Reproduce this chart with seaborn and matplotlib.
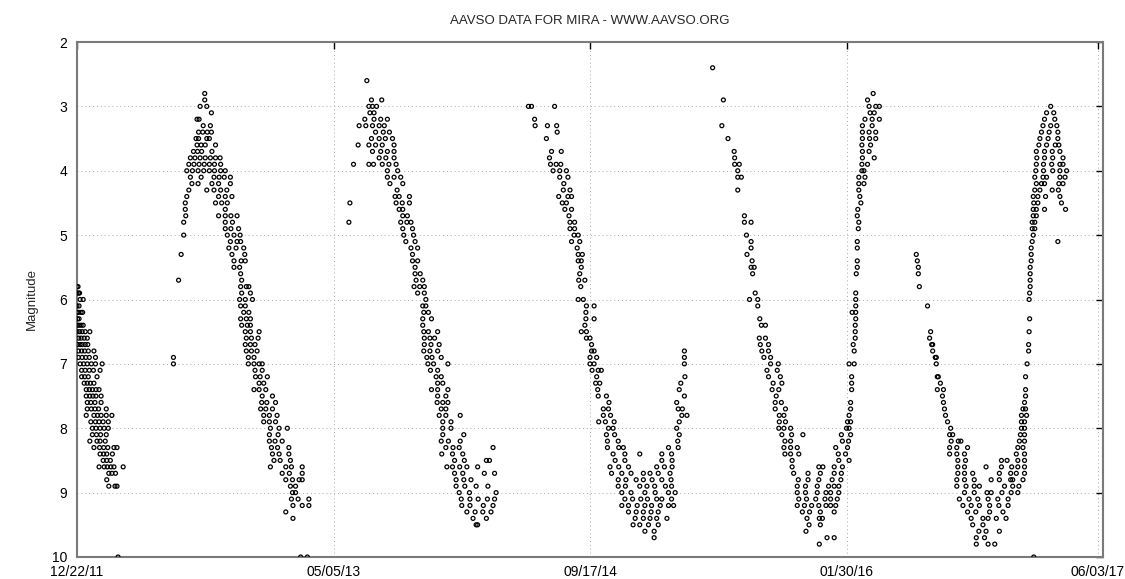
import pandas as pd
import seaborn as sns
import matplotlib.pyplot as plt

# AAVSO visual magnitudes of Mira.
# Each row: (magnitude, [days since 12/22/11 on which that magnitude was reported])
start_date = pd.Timestamp('2011-12-22')
tick_dates = ['2011-12-22', '2013-05-05', '2014-09-17', '2016-01-30', '2017-06-03']
tick_labels = ['12/22/11', '05/05/13', '09/17/14', '01/30/16', '06/03/17']
mag_ticks = [2, 3, 4, 5, 6, 7, 8, 9, 10]

cycle_2011 = [
    (5.8, [0, 2]), (5.9, [0, 3, 5]), (6.0, [6, 12]), (6.1, [0, 4]),
    (6.2, [0, 3, 8, 11]), (6.3, [1, 4]), (6.4, [0, 4, 8, 12]),
    (6.5, [0, 5, 10, 16, 25]), (6.6, [3, 8, 14, 20]), (6.7, [1, 6, 10, 16, 21]),
    (6.8, [3, 9, 15, 22, 33]), (6.9, [3, 10, 17, 24, 36]),
    (7.0, [6, 13, 20, 28, 36, 49]), (7.1, [9, 16, 24, 32, 45]),
    (7.2, [9, 15, 22, 39]), (7.3, [14, 20, 26, 33]), (7.4, [18, 24, 30, 37, 43]),
    (7.5, [18, 25, 31, 37, 47]), (7.6, [20, 27, 35, 47]),
    (7.7, [20, 28, 35, 42, 57]), (7.8, [18, 33, 40, 47, 57, 68]),
    (7.9, [27, 36, 43, 51, 61]), (8.0, [30, 37, 45, 53, 61]),
    (8.1, [30, 38, 46, 57]), (8.2, [25, 39, 45, 55]),
    (8.3, [33, 44, 52, 60, 72, 78]), (8.4, [45, 52, 58, 69]), (8.5, [51, 58, 65]),
    (8.6, [43, 53, 59, 66, 72, 90]), (8.7, [62, 68, 75]), (8.8, [58]),
    (8.9, [62, 74, 78]), (10.0, [80]),
]

cycle_2012 = [
    (2.8, [249]), (2.9, [249]), (3.0, [240, 253]), (3.1, [262]), (3.2, [234, 238]),
    (3.3, [246, 260]), (3.4, [237, 245, 254, 262]), (3.5, [232, 237, 253, 258]),
    (3.6, [234, 242, 250, 270]), (3.7, [227, 235, 243, 263]),
    (3.8, [221, 230, 240, 250, 260, 270, 279]),
    (3.9, [218, 228, 238, 248, 258, 268, 280]),
    (4.0, [214, 225, 236, 247, 258, 268, 280, 289]),
    (4.1, [221, 242, 267, 277, 287, 299]), (4.2, [224, 236, 263, 276, 299]),
    (4.3, [218, 253, 267, 280, 292]), (4.4, [214, 276, 289, 302]),
    (4.5, [211, 270, 282, 293]), (4.6, [211, 289]), (4.7, [212, 276, 289, 300, 312]),
    (4.8, [208, 289, 303]), (4.9, [289, 300, 315]), (5.0, [208, 293, 306, 318]),
    (5.1, [299, 312, 319]), (5.2, [296, 310, 325]), (5.3, [203, 302, 327]),
    (5.4, [306, 320, 328]), (5.5, [306, 317]), (5.6, [319]), (5.7, [198, 321]),
    (5.8, [319, 330, 335]), (5.9, [321, 338]), (6.0, [317, 328, 342]),
    (6.1, [319, 328]), (6.2, [325, 335]), (6.3, [319, 330, 338]),
    (6.4, [321, 332, 338]), (6.5, [328, 338, 355]), (6.6, [330, 340, 353]),
    (6.7, [328, 338, 347]), (6.8, [330, 340, 351]), (6.9, [188, 334, 345]),
    (7.0, [188, 334, 345, 355, 361]), (7.1, [347, 361]), (7.2, [348, 357, 371]),
    (7.3, [355, 364]), (7.4, [345, 355, 368]), (7.5, [361, 381]),
    (7.6, [360, 370, 387]), (7.7, [358, 368, 381]), (7.8, [364, 375, 390]),
    (7.9, [364, 375, 387]), (8.0, [377, 394, 410]), (8.1, [375, 392]),
    (8.2, [375, 386, 400]), (8.3, [379, 391, 413]), (8.4, [381, 394, 413]),
    (8.5, [384, 396, 416]), (8.6, [377, 407, 418, 439]), (8.7, [400, 414, 439]),
    (8.8, [407, 420, 433, 439]), (8.9, [416, 426]), (9.0, [420, 426]),
    (9.1, [418, 431, 452]), (9.2, [421, 439, 452]), (9.3, [407]), (9.4, [421]),
    (10.0, [436, 449]),
]

cycle_2013 = [
    (2.6, [565]), (2.9, [574, 594]), (3.0, [569, 576, 584]), (3.1, [571, 579]),
    (3.2, [561, 579, 592, 605]), (3.3, [550, 563, 576, 589, 599]),
    (3.4, [582, 597, 609]), (3.5, [574, 589, 601, 615]),
    (3.6, [548, 569, 582, 595, 618]), (3.7, [576, 592, 605, 618]),
    (3.8, [589, 602, 618]), (3.9, [539, 569, 578, 595, 608, 622]),
    (4.0, [605, 625]), (4.1, [605, 618, 631]), (4.2, [610, 635]), (4.3, [624]),
    (4.4, [620, 628, 648]), (4.5, [532, 622, 634, 648]), (4.6, [628, 635]),
    (4.7, [635, 644]), (4.8, [530, 631, 643, 651]), (4.9, [635, 654]),
    (5.0, [637, 656]), (5.1, [641, 659]), (5.2, [651, 664]), (5.3, [654]),
    (5.4, [654, 664]), (5.5, [659]), (5.6, [659, 669]), (5.7, [661, 674]),
    (5.8, [657, 668, 677]), (5.9, [664, 677]), (6.0, [680]), (6.1, [674, 680]),
    (6.2, [676, 685]), (6.3, [674, 691]), (6.4, [674]), (6.5, [676, 685, 703]),
    (6.6, [677, 688, 697]), (6.7, [677, 690, 706]), (6.8, [676, 688, 703]),
    (6.9, [682, 692, 710]), (7.0, [684, 695, 723]), (7.1, [689, 703]),
    (7.2, [700, 710]), (7.3, [703, 713]), (7.4, [691, 703, 723]), (7.5, [703, 719]),
    (7.6, [702, 713, 723]), (7.7, [710, 719]), (7.8, [706, 719, 747]),
    (7.9, [713, 729]), (8.0, [713, 729]), (8.1, [713, 754]), (8.2, [710, 724, 747]),
    (8.3, [719, 733, 745, 811]), (8.4, [711, 732, 752]),
    (8.5, [736, 755, 798, 804]), (8.6, [721, 732, 746, 760, 781]),
    (8.7, [736, 752, 794, 814]), (8.8, [739, 754, 768]),
    (8.9, [739, 756, 778, 801]), (9.0, [745, 765, 817]),
    (9.1, [749, 766, 782, 800, 814]), (9.2, [750, 766, 792, 811]),
    (9.3, [760, 776, 791, 807]), (9.4, [772, 798]), (9.5, [778, 781]),
]

cycle_2014 = [
    (3.0, [880, 886, 931]), (3.2, [892]), (3.3, [893, 917, 935]), (3.4, [936]),
    (3.5, [915]), (3.7, [925, 944]), (3.8, [921]), (3.9, [923, 934, 943]),
    (4.0, [928, 941, 954]), (4.1, [941, 957]), (4.2, [949]), (4.3, [948, 961]),
    (4.4, [939, 957, 964]), (4.5, [946, 954]), (4.6, [951, 964]), (4.7, [959]),
    (4.8, [961, 970]), (4.9, [961, 970]), (5.0, [969, 977]), (5.1, [964, 980]),
    (5.2, [975]), (5.3, [977, 985]), (5.4, [977, 983]), (5.5, [983]), (5.6, [980]),
    (5.7, [978, 990]), (5.8, [982]), (6.0, [977, 987]), (6.1, [993, 1008]),
    (6.2, [992]), (6.3, [992, 1008]), (6.4, [990]), (6.5, [983, 993]),
    (6.6, [993, 1000]), (6.7, [1003]), (6.8, [1003, 1008, 1184]),
    (6.9, [1000, 1013, 1184]), (7.0, [1000, 1008, 1184]),
    (7.1, [1004, 1016, 1022]), (7.2, [1013, 1185]), (7.3, [1011, 1019, 1177]),
    (7.4, [1015, 1174]), (7.5, [1016, 1032, 1184]), (7.6, [1037, 1169]),
    (7.7, [1026, 1036, 1172, 1180]), (7.8, [1026, 1040, 1179, 1189]),
    (7.9, [1017, 1030, 1047, 1174]), (8.0, [1036, 1045, 1169]),
    (8.1, [1032, 1048, 1174]), (8.2, [1034, 1055, 1171]),
    (8.3, [1034, 1056, 1065, 1153, 1172]), (8.4, [1045, 1068, 1097, 1140, 1159]),
    (8.5, [1049, 1068, 1140, 1160]), (8.6, [1039, 1056, 1075, 1130, 1145, 1160]),
    (8.7, [1042, 1062, 1080, 1104, 1117, 1133, 1156]),
    (8.8, [1055, 1070, 1090, 1104, 1121, 1140, 1158]),
    (8.9, [1055, 1069, 1097, 1111, 1126, 1147, 1159]),
    (9.0, [1062, 1080, 1107, 1127, 1153, 1166]),
    (9.1, [1068, 1083, 1099, 1112, 1130, 1140, 1159]),
    (9.2, [1062, 1075, 1092, 1107, 1120, 1137, 1153, 1163]),
    (9.3, [1075, 1090, 1104, 1119, 1133]), (9.4, [1088, 1104, 1117, 1130, 1150]),
    (9.5, [1084, 1097, 1114, 1133]), (9.6, [1107, 1125]), (9.7, [1125]),
]

cycle_2015 = [
    (2.4, [1239]), (2.8, [1552]), (2.9, [1260, 1541]), (3.0, [1544, 1557, 1564]),
    (3.1, [1546, 1554]), (3.2, [1536, 1550, 1564]), (3.3, [1257, 1531, 1550]),
    (3.4, [1531, 1544, 1557]), (3.5, [1269, 1531, 1545, 1557]), (3.6, [1530, 1547]),
    (3.7, [1281, 1531, 1544]), (3.8, [1282, 1531, 1554]),
    (3.9, [1282, 1291, 1530, 1541]), (4.0, [1288, 1530, 1534]),
    (4.1, [1288, 1295, 1524, 1536]), (4.2, [1524, 1534]), (4.3, [1288, 1524]),
    (4.4, [1526]), (4.5, [1528]), (4.6, [1522]), (4.7, [1301, 1521]),
    (4.8, [1301, 1314, 1524]), (4.9, [1523]), (5.0, [1305]), (5.1, [1314, 1521]),
    (5.2, [1314, 1521]), (5.3, [1306]), (5.4, [1316, 1521]),
    (5.5, [1314, 1320, 1521]), (5.6, [1317, 1519]), (5.9, [1322, 1518]),
    (6.0, [1311, 1327, 1518]), (6.1, [1327, 1518]), (6.2, [1511, 1518]),
    (6.3, [1331, 1518]), (6.4, [1334, 1342, 1517]), (6.5, [1517]),
    (6.6, [1330, 1342, 1517]), (6.7, [1332, 1348, 1513]), (6.8, [1335, 1348, 1515]),
    (6.9, [1339, 1352]), (7.0, [1352, 1367, 1505, 1515]), (7.1, [1345, 1365]),
    (7.2, [1348, 1371, 1510]), (7.3, [1357, 1374, 1510]), (7.4, [1355, 1368, 1510]),
    (7.5, [1363]), (7.6, [1361, 1373, 1508]), (7.7, [1361, 1381, 1508]),
    (7.8, [1369, 1378, 1505]), (7.9, [1369, 1381, 1502, 1508]),
    (8.0, [1368, 1378, 1391, 1500, 1505]), (8.1, [1374, 1393, 1415, 1490, 1508]),
    (8.2, [1380, 1391, 1492, 1504]), (8.3, [1378, 1391, 1404, 1479, 1502]),
    (8.4, [1380, 1391, 1407, 1484, 1498]), (8.5, [1394, 1485, 1505]),
    (8.6, [1394, 1446, 1454, 1476, 1492]), (8.7, [1397, 1425, 1449, 1476, 1490]),
    (8.8, [1406, 1425, 1446, 1472, 1489]),
    (8.9, [1404, 1420, 1443, 1465, 1476, 1485]),
    (9.0, [1404, 1420, 1443, 1460, 1469, 1485]),
    (9.1, [1407, 1422, 1440, 1458, 1469, 1482]),
    (9.2, [1404, 1418, 1432, 1446, 1460, 1469, 1479]),
    (9.3, [1414, 1428, 1449, 1476]), (9.4, [1423, 1447, 1453]), (9.5, [1427, 1449]),
    (9.6, [1421]), (9.7, [1462, 1476]), (9.8, [1447]),
]

cycle_2016 = [
    (3.0, [1898]), (3.1, [1890, 1904]), (3.2, [1886, 1906]),
    (3.3, [1883, 1898, 1910]), (3.4, [1880, 1895, 1912]), (3.5, [1877, 1893, 1912]),
    (3.6, [1875, 1890, 1907, 1914]), (3.7, [1870, 1886, 1901, 1916]),
    (3.8, [1871, 1886, 1902, 1922]), (3.9, [1870, 1884, 1900, 1916, 1922]),
    (4.0, [1869, 1884, 1902, 1916, 1929]), (4.1, [1867, 1883, 1890, 1916, 1926]),
    (4.2, [1870, 1880, 1886, 1914, 1922]), (4.3, [1867, 1877, 1901, 1913]),
    (4.4, [1864, 1873, 1888, 1916]), (4.5, [1865, 1873, 1919]),
    (4.6, [1864, 1870, 1886, 1927]), (4.7, [1864, 1870]), (4.8, [1862, 1867]),
    (4.9, [1862, 1867]), (5.0, [1864]), (5.1, [1862, 1912]), (5.2, [1860]),
    (5.3, [1636, 1860]), (5.4, [1638, 1860]), (5.5, [1640, 1858]),
    (5.6, [1640, 1858]), (5.7, [1858]), (5.8, [1642, 1858]), (5.9, [1857]),
    (6.0, [1856]), (6.1, [1658]), (6.3, [1857]), (6.5, [1664, 1856]), (6.6, [1662]),
    (6.7, [1666, 1668, 1855]), (6.8, [1668, 1855]), (6.9, [1673, 1675]),
    (7.0, [1675, 1852]), (7.2, [1677, 1679, 1849]), (7.3, [1683]),
    (7.4, [1677, 1689, 1849]), (7.5, [1687, 1849]), (7.6, [1689, 1847]),
    (7.7, [1691, 1844, 1849]), (7.8, [1693, 1841, 1851]), (7.9, [1697, 1841, 1847]),
    (8.0, [1703, 1841, 1847]), (8.1, [1701, 1707, 1839, 1847]),
    (8.2, [1704, 1718, 1723, 1837, 1847]), (8.3, [1701, 1715, 1736, 1834, 1844]),
    (8.4, [1701, 1715, 1730, 1831, 1847]),
    (8.5, [1717, 1732, 1802, 1813, 1834, 1847]),
    (8.6, [1717, 1730, 1772, 1802, 1822, 1834, 1847]),
    (8.7, [1717, 1730, 1746, 1798, 1820, 1831, 1847]),
    (8.8, [1715, 1730, 1749, 1782, 1798, 1820, 1824, 1844]),
    (8.9, [1715, 1733, 1749, 1759, 1808, 1824, 1836]),
    (9.0, [1730, 1749, 1774, 1782, 1803, 1821, 1834]),
    (9.1, [1720, 1739, 1756, 1776, 1795, 1815]),
    (9.2, [1727, 1743, 1759, 1779, 1797, 1815]), (9.3, [1736, 1752, 1779, 1805]),
    (9.4, [1743, 1766, 1776, 1792, 1811]), (9.5, [1746, 1766]),
    (9.6, [1758, 1772, 1798]), (9.7, [1753, 1769]), (9.8, [1753, 1776, 1789]),
    (10.0, [1865]),
]

cycles = [cycle_2011, cycle_2012, cycle_2013, cycle_2014, cycle_2015, cycle_2016]

# flatten the rows into one table of observations
records = []
for cycle in cycles:
    for mag, days in cycle:
        for d in days:
            records.append((d, mag))
df = pd.DataFrame(records, columns=['day', 'magnitude'])
df['date'] = start_date + pd.to_timedelta(df['day'], unit='D')

sns.set_style('white')
plt.rcParams['font.family'] = ['Liberation Sans', 'DejaVu Sans']

fig = plt.figure(figsize=(11.25, 5.79), dpi=100)
ax = fig.add_axes([77 / 1125, 22 / 579, 1026 / 1125, 515 / 579])

sns.scatterplot(data=df, x='date', y='magnitude', ax=ax, marker='o', s=8,
                facecolors='none', edgecolor='black', linewidth=0.9, zorder=3)

ax.set_xlim(start_date, start_date + pd.Timedelta(days=2000))
ax.set_ylim(10, 2)
ax.set_xticks(pd.to_datetime(tick_dates))
ax.set_xticklabels(tick_labels)
ax.set_yticks(mag_ticks)
ax.set_yticklabels([str(m) for m in mag_ticks])

ax.grid(True, color='#aaaaaa', linestyle=(0, (1, 3)), linewidth=0.7)
ax.tick_params(direction='in', length=5, width=1, top=True, right=True,
               labelsize=10, colors='black')
ax.tick_params(axis='x', pad=6)
ax.tick_params(axis='y', pad=7)
for spine in ax.spines.values():
    spine.set_color('#7a7a7a')
    spine.set_linewidth(1.5)

ax.set_xlabel('')
ax.set_ylabel('Magnitude', fontsize=9.5, labelpad=10)
ax.set_title('AAVSO DATA FOR MIRA - WWW.AAVSO.ORG', fontsize=9.5, pad=13)

fig.savefig('out.png', dpi=100)
